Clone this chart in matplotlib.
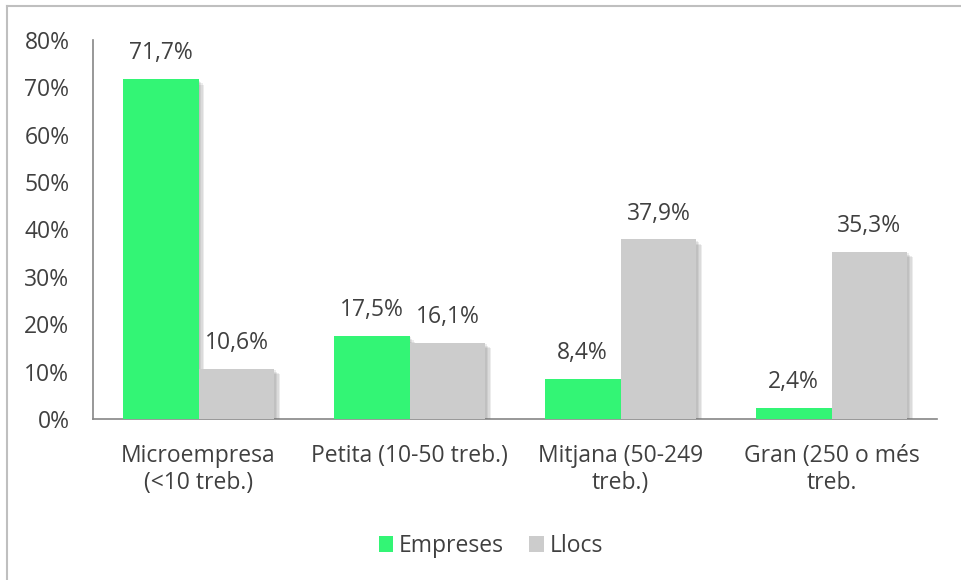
import matplotlib
matplotlib.use("Agg")
import matplotlib.pyplot as plt
import matplotlib.patheffects as pe
from matplotlib.lines import Line2D
from matplotlib.patches import Patch
import numpy as np

categories = ["Microempresa\n(<10 treb.)", "Petita (10-50 treb.)", "Mitjana (50-249\ntreb.)", "Gran (250 o més\ntreb."]
empreses = [71.7, 17.5, 8.4, 2.4]
llocs = [10.6, 16.1, 37.9, 35.3]
series_names = ["Empreses", "Llocs"]
yticks = [0, 10, 20, 30, 40, 50, 60, 70, 80]

GREEN = "#33F575"
GREY = "#CCCCCC"
TXT = "#404040"
AX = "#868686"
FS = 16.5

plt.rcParams['font.family'] = ['Open Sans', 'DejaVu Sans']
fig = plt.figure(figsize=(9.61, 5.80), dpi=100)
ax = fig.add_axes([93/961, 1-419/580, (937-93)/961, (419-40)/580])

x = np.arange(len(categories))
w = 0.36
shadow = [pe.SimplePatchShadow(offset=(o, -o), shadow_rgbFace="#707070", alpha=0.13) for o in (1, 2, 3, 4)] + [pe.Normal()]
b1 = ax.bar(x - w/2, empreses, w, color=GREEN, label=series_names[0], zorder=3, path_effects=shadow)
b2 = ax.bar(x + w/2, llocs, w, color=GREY, label=series_names[1], zorder=3, path_effects=shadow)

for bars, vals in ((b1, empreses), (b2, llocs)):
    for r, v in zip(bars, vals):
        ax.annotate(f"{v:.1f}%".replace(".", ","), (r.get_x() + r.get_width()/2, v),
                    xytext=(0, 10), textcoords="offset points", ha="center", va="bottom",
                    fontsize=FS, color=TXT)

ax.set_xlim(-0.5, len(categories) - 0.5)
ax.set_ylim(0, 80)
ax.set_yticks(yticks)
ax.set_yticklabels([f"{t}%" for t in yticks])
ax.set_xticks(x)
ax.set_xticklabels(categories, linespacing=1.15)
ax.tick_params(axis="y", length=0, pad=17, labelsize=FS, labelcolor=TXT)
ax.tick_params(axis="x", length=0, pad=18, labelsize=FS, labelcolor=TXT)
for s in ("top", "right"):
    ax.spines[s].set_visible(False)
for s in ("left", "bottom"):
    ax.spines[s].set_color(AX)
    ax.spines[s].set_linewidth(1.2)

handles = [Patch(facecolor=GREEN), Patch(facecolor=GREY)]
fig.legend(handles, series_names, loc="center", bbox_to_anchor=(491/961, 1-546/580), ncol=2,
           frameon=False, fontsize=FS, labelcolor=TXT, handlelength=0.65, handleheight=0.65,
           handletextpad=0.25, columnspacing=1.1)

fig.add_artist(Line2D([6.5/961, 1], [1-5.5/580, 1-5.5/580], transform=fig.transFigure, color="#BFBFBF", lw=1.5))
fig.add_artist(Line2D([6.5/961, 6.5/961], [0, 1-5.5/580], transform=fig.transFigure, color="#BFBFBF", lw=1.5))

fig.savefig("out.png", dpi=100)
